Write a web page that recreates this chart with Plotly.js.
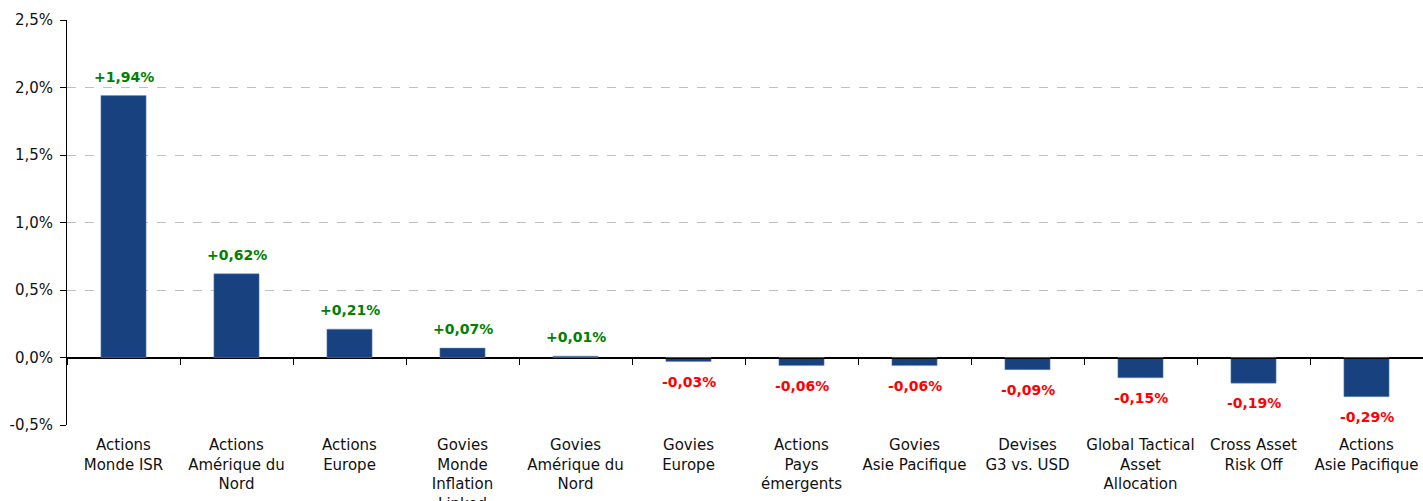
<!DOCTYPE html>
<html>
<head>
<meta charset="utf-8">
<script src="https://cdn.plot.ly/plotly-3.0.1.min.js"></script>
<style>html,body{margin:0;padding:0;background:#fff;}#chart{width:1423px;height:501px;}</style>
</head>
<body>
<div id="chart"></div>
<script>
const categories = [
  "Actions<br>Monde ISR",
  "Actions<br>Amérique du<br>Nord",
  "Actions<br>Europe",
  "Govies<br>Monde<br>Inflation<br>Linked",
  "Govies<br>Amérique du<br>Nord",
  "Govies<br>Europe",
  "Actions<br>Pays<br>émergents",
  "Govies<br>Asie Pacifique",
  "Devises<br>G3 vs. USD",
  "Global Tactical<br>Asset<br>Allocation",
  "Cross Asset<br>Risk Off",
  "Actions<br>Asie Pacifique"
];
const values = [1.94, 0.62, 0.21, 0.07, 0.01, -0.03, -0.06, -0.06, -0.09, -0.15, -0.19, -0.29];
const yTickVals = [-0.5, 0, 0.5, 1.0, 1.5, 2.0, 2.5];
const yTickText = ["-0,5%", "0,0%", "0,5%", "1,0%", "1,5%", "2,0%", "2,5%"];

const fmt = v => (v >= 0 ? "+" : "-") + Math.abs(v).toFixed(2).replace(".", ",") + "%";

const barColor = "#17417F";
const traces = [
  {
    type: "bar", x: categories, y: values, width: 0.4,
    marker: {color: barColor, line: {color: "#6f8fbf", width: 0.5}},
    hoverinfo: "skip", xaxis: "x", yaxis: "y"
  },
  {
    type: "bar", x: categories, y: values, width: 0.4,
    marker: {color: "rgba(0,0,0,0)"}, hoverinfo: "skip", xaxis: "x2", yaxis: "y",
    showlegend: false
  }
];

const annotations = values.map((v, i) => ({
  x: categories[i], y: v, xref: "x", yref: "y",
  text: "<b>" + fmt(v) + "</b>",
  showarrow: false,
  yanchor: v >= 0 ? "bottom" : "top",
  yshift: v >= 0 ? 9 : -10,
  font: {family: "DejaVu Sans, Verdana, sans-serif", size: 14, color: v >= 0 ? "#008000" : "#FF0000"}
}));

const font = {family: "DejaVu Sans, Verdana, sans-serif", size: 15, color: "#111"};

const layout = {
  width: 1423, height: 501,
  margin: {l: 67, r: 0, t: 20, b: 76},
  paper_bgcolor: "#fff", plot_bgcolor: "#fff",
  showlegend: false, bargap: 0.6,
  font: font,
  xaxis: {
    type: "category", range: [-0.5, 11.5], showline: false, ticks: "",
    showgrid: false, zeroline: false, tickfont: font, fixedrange: true,
    ticklabelstandoff: 9
  },
  xaxis2: {
    type: "category", range: [-0.5, 11.5], overlaying: "x", anchor: "free",
    position: 1 / 6, showline: true, linecolor: "#000", linewidth: 1,
    ticks: "outside", tickson: "boundaries", ticklen: 6, tickcolor: "#000",
    showticklabels: false, showgrid: false, zeroline: false, fixedrange: true
  },
  yaxis: {
    range: [-0.5, 2.5], tickvals: yTickVals, ticktext: yTickText,
    showline: true, linecolor: "#000", linewidth: 1,
    ticks: "outside", ticklen: 6, tickcolor: "#000",
    showgrid: true, gridcolor: "#c0c0c0", griddash: "dash", gridwidth: 1,
    zeroline: true, zerolinecolor: "#000", zerolinewidth: 1,
    tickfont: font, fixedrange: true, ticklabelstandoff: 4
  },
  annotations: annotations
};

Plotly.newPlot("chart", traces, layout, {displayModeBar: false, staticPlot: true});
</script>
</body>
</html>
